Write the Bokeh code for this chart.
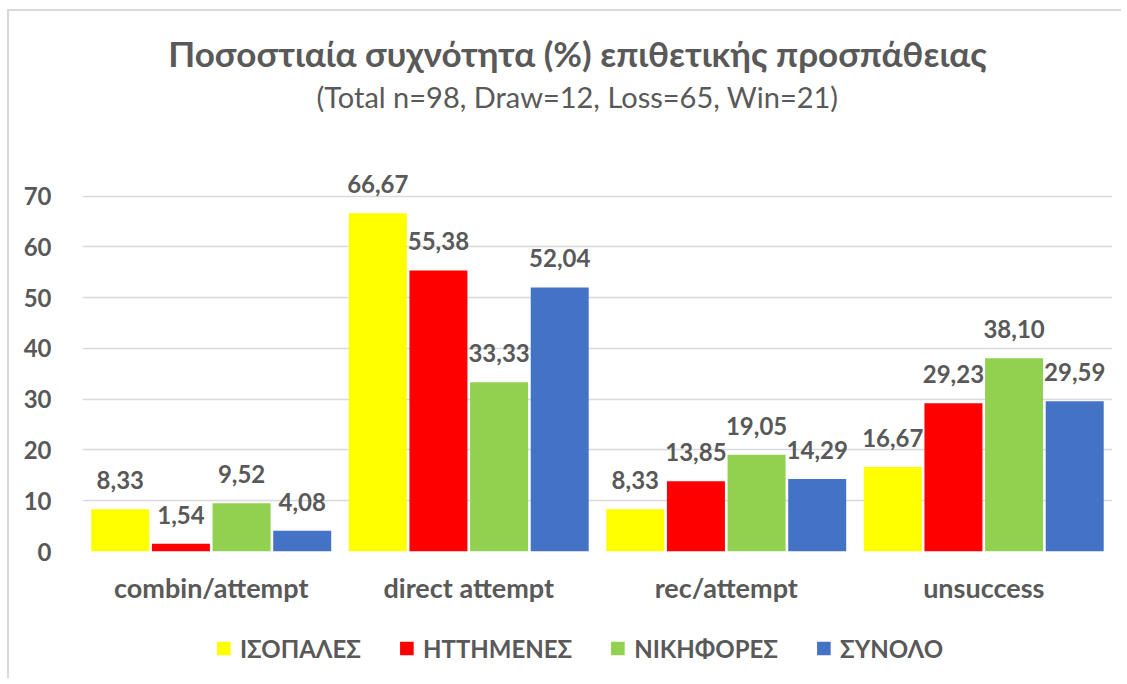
from bokeh.plotting import figure
from bokeh.layouts import column
from bokeh.models import (ColumnDataSource, FactorRange, FixedTicker, Legend, LegendItem,
                          LabelSet, Label, Range1d)
from bokeh.core.properties import value
from bokeh.transform import dodge
from bokeh.embed import file_html
from bokeh.resources import INLINE

title_text = "Ποσοστιαία συχνότητα (%) επιθετικής προσπάθειας"
subtitle_text = "(Total n=98, Draw=12, Loss=65, Win=21)"
categories = ["combin/attempt", "direct attempt", "rec/attempt", "unsuccess"]
series_names = ["ΙΣΟΠΑΛΕΣ", "ΗΤΤΗΜΕΝΕΣ", "ΝΙΚΗΦΟΡΕΣ", "ΣΥΝΟΛΟ"]
isopales = [8.33, 66.67, 8.33, 16.67]
ittimenes = [1.54, 55.38, 13.85, 29.23]
nikifores = [9.52, 33.33, 19.05, 38.10]
synolo = [4.08, 52.04, 14.29, 29.59]
colors = ["#FFFF00", "#FF0000", "#92D050", "#4472C4"]
y_ticks = [0, 10, 20, 30, 40, 50, 60, 70]

FONT = "Lato"
TXT = "#595959"

series = [isopales, ittimenes, nikifores, synolo]
keys = ["s0", "s1", "s2", "s3"]
data = {"cat": categories}
for k, s in zip(keys, series):
    data[k] = s
    data[k + "_lbl"] = [f"{v:.2f}".replace(".", ",") for v in s]
src = ColumnDataSource(data)

W = 1112
p = figure(x_range=FactorRange(*categories, range_padding=0), y_range=Range1d(0, 106.4),
           width=W, height=607, output_backend="svg", toolbar_location=None,
           title=None, min_border_left=73, min_border_right=9, min_border_top=0,
           min_border_bottom=67)

p.add_layout(Label(x=495, y=499, x_units="screen", y_units="screen", text=title_text,
                   text_align="center", text_baseline="middle", text_font=FONT,
                   text_font_size="35px", text_font_style="bold", text_color=TXT))
p.add_layout(Label(x=495, y=455, x_units="screen", y_units="screen", text=subtitle_text,
                   text_align="center", text_baseline="middle", text_font=FONT,
                   text_font_size="29px", text_font_style="normal", text_color=TXT))

pitch = 0.2355
bar_w = 0.2252
offsets = [-1.5 * pitch, -0.5 * pitch, 0.5 * pitch, 1.5 * pitch]
for k, off, col in zip(keys, offsets, colors):
    p.vbar(x=dodge("cat", off, range=p.x_range), top=k, width=bar_w, source=src,
           fill_color=col, line_color=None)
    p.add_layout(LabelSet(x=dodge("cat", off, range=p.x_range), y=k, text=k + "_lbl",
                          source=src, text_align="center", text_baseline="alphabetic",
                          y_offset=20, text_font=value(FONT), text_font_size="24px",
                          text_font_style="bold", text_color=TXT))

p.yaxis.ticker = FixedTicker(ticks=y_ticks)
p.yaxis.axis_line_color = None
p.yaxis.major_tick_line_color = None
p.yaxis.minor_tick_line_color = None
p.yaxis.major_label_text_font = FONT
p.yaxis.major_label_text_font_size = "24px"
p.yaxis.major_label_text_font_style = "bold"
p.yaxis.major_label_text_color = TXT
p.yaxis.major_label_standoff = 25

p.xaxis.axis_line_color = None
p.xaxis.major_tick_line_color = None
p.xaxis.major_label_text_font = FONT
p.xaxis.major_label_text_font_size = "27px"
p.xaxis.major_label_text_font_style = "bold"
p.xaxis.major_label_text_color = TXT
p.xaxis.major_label_standoff = 13

p.xgrid.grid_line_color = None
p.ygrid.grid_line_color = "#D9D9D9"
p.ygrid.grid_line_width = 1.5
p.outline_line_color = None

# legend strip (its bars fall outside its view; only the legend shows)
lg = figure(width=W - 36, height=60, x_range=FactorRange(*categories), y_range=Range1d(1000, 1001),
            output_backend="svg", toolbar_location=None, title=None,
            min_border_left=35, min_border_right=0, min_border_top=0, min_border_bottom=0)
lg.axis.visible = False
lg.grid.grid_line_color = None
lg.outline_line_color = None
items = []
for k, col, name in zip(keys, colors, series_names):
    r = lg.vbar(x="cat", top=k, width=0.2, source=src, fill_color=col, line_color=None)
    items.append(LegendItem(label=name, renderers=[r]))
lg.add_layout(Legend(items=items, orientation="horizontal", location="center",
                     label_text_font=FONT, label_text_font_size="24px",
                     label_text_font_style="bold", label_text_color=TXT,
                     glyph_width=17, glyph_height=17, label_standoff=8, spacing=37,
                     border_line_color=None, background_fill_alpha=0, padding=0, margin=0))

layout = column(p, lg, spacing=0, margin=(9, 0, 0, 7),
                styles={"border-top": "2px solid #D9D9D9", "border-left": "2px solid #D9D9D9"})

open("out.html", "w").write(file_html(layout, INLINE))
